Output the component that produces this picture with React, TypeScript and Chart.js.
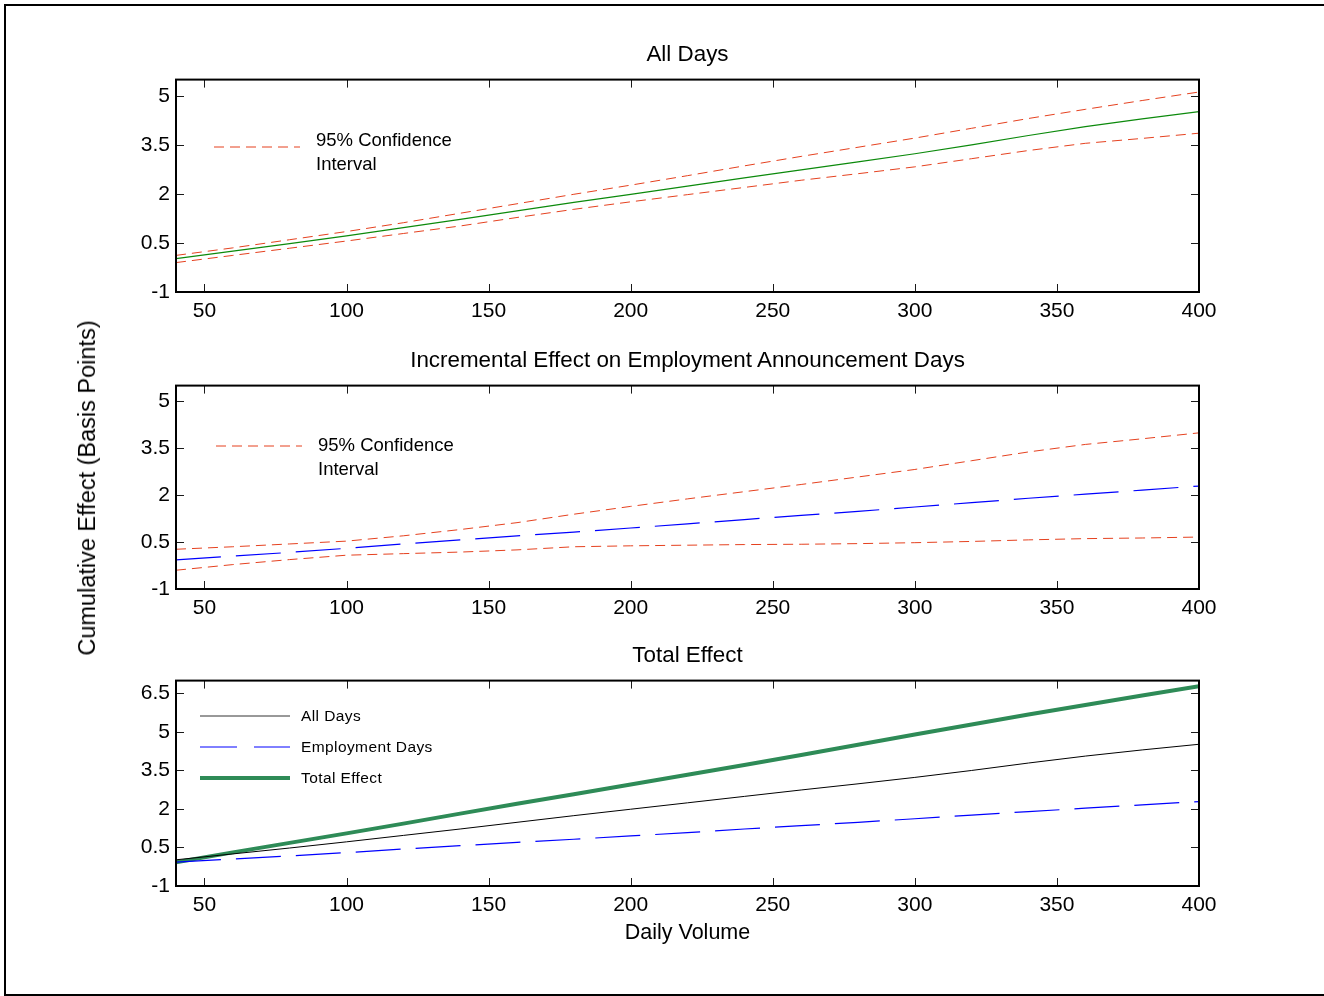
import React, { useEffect, useRef } from 'react';
import { Chart, registerables } from 'chart.js';

Chart.register(...registerables);

// ---------------- data ----------------
const VOLUME = [40, 60, 80, 100, 120, 140, 160, 180, 200, 220, 240, 260, 280, 300, 320, 340, 360, 380, 400];

// Panel 1: All Days
const ALL_DAYS = [0.02, 0.25, 0.48, 0.72, 0.97, 1.22, 1.48, 1.74, 1.99, 2.24, 2.49, 2.74, 2.98, 3.23, 3.5, 3.79, 4.06, 4.3, 4.52];
const ALL_DAYS_UPPER = [0.12, 0.35, 0.6, 0.85, 1.12, 1.41, 1.7, 1.99, 2.27, 2.56, 2.86, 3.15, 3.43, 3.71, 4.01, 4.31, 4.59, 4.86, 5.12];
const ALL_DAYS_LOWER = [-0.1, 0.12, 0.34, 0.56, 0.79, 1.02, 1.28, 1.53, 1.76, 1.98, 2.2, 2.42, 2.62, 2.83, 3.08, 3.33, 3.55, 3.7, 3.86];

// Panel 2: Incremental effect on employment announcement days
const EMP_DAYS = [-0.07, 0.05, 0.17, 0.3, 0.44, 0.57, 0.7, 0.82, 0.95, 1.08, 1.22, 1.35, 1.48, 1.62, 1.76, 1.9, 2.03, 2.16, 2.29];
const EMP_UPPER = [0.27, 0.35, 0.44, 0.53, 0.7, 0.9, 1.12, 1.39, 1.64, 1.88, 2.11, 2.34, 2.58, 2.82, 3.1, 3.38, 3.62, 3.8, 3.99];
const EMP_LOWER = [-0.4, -0.22, -0.06, 0.08, 0.13, 0.18, 0.25, 0.35, 0.38, 0.4, 0.42, 0.43, 0.45, 0.48, 0.52, 0.57, 0.61, 0.63, 0.66];

// Panel 3: Total effect
const TOTAL_EFFECT = [-0.08, 0.31, 0.68, 1.05, 1.43, 1.82, 2.2, 2.57, 2.95, 3.33, 3.71, 4.1, 4.5, 4.9, 5.29, 5.68, 6.05, 6.42, 6.78];

const X_TICKS = [50, 100, 150, 200, 250, 300, 350, 400];
const Y_TICKS_TOP = [-1, 0.5, 2, 3.5, 5];
const Y_TICKS_BOTTOM = [-1, 0.5, 2, 3.5, 5, 6.5];

const TITLES = ['All Days', 'Incremental Effect on Employment Announcement Days', 'Total Effect'];
const CI_LABEL = ['95% Confidence', 'Interval'];
const LEGEND3 = ['All Days', 'Employment Days', 'Total Effect'];
const Y_LABEL = 'Cumulative Effect (Basis Points)';
const X_LABEL = 'Daily Volume';

// ---------------- styles ----------------
const FONT = '"Liberation Sans", Arial, Helvetica, sans-serif';
const RED = '#e5411f';
const GREEN = '#0c8a0c';
const BLUE = '#0000ff';
const TOTAL_GREEN = '#2e8b57';
const TOP_PAD = 18;
const X_AXIS_H = 40;

const toPts = (ys: number[]) => VOLUME.map((x, i) => ({ x, y: ys[i] }));

const framePlugin = {
  id: 'matlabFrame',
  afterDatasetsDraw(chart: any, _args: any, opts: any) {
    const { ctx, chartArea: a, scales } = chart;
    const L = 8;
    ctx.save();
    ctx.strokeStyle = '#1a1a1a';
    ctx.lineWidth = 1;
    ctx.setLineDash([]);
    ctx.beginPath();
    for (const t of scales.x.ticks) {
      const p = Math.round(scales.x.getPixelForValue(t.value)) + 0.5;
      ctx.moveTo(p, a.bottom);
      ctx.lineTo(p, a.bottom - L);
      ctx.moveTo(p, a.top);
      ctx.lineTo(p, a.top + L);
    }
    for (const t of scales.y.ticks) {
      const p = Math.round(scales.y.getPixelForValue(t.value)) + 0.5;
      ctx.moveTo(a.left, p);
      ctx.lineTo(a.left + L, p);
      ctx.moveTo(a.right, p);
      ctx.lineTo(a.right - L, p);
    }
    ctx.stroke();
    ctx.lineWidth = 2;
    ctx.strokeStyle = '#000';
    ctx.strokeRect(a.left, a.top, a.right - a.left, a.bottom - a.top);

    const items = (opts && opts.items) || [];
    const off = (opts && opts.offsetTop) || 0;
    for (const it of items) {
      ctx.beginPath();
      ctx.strokeStyle = it.color;
      ctx.lineWidth = it.width;
      ctx.setLineDash(it.dash || []);
      ctx.moveTo(it.x1, it.y - off);
      ctx.lineTo(it.x2, it.y - off);
      ctx.stroke();
      ctx.setLineDash([]);
      ctx.fillStyle = '#000';
      ctx.font = `${it.fontSize}px ${FONT}`;
      ctx.textBaseline = 'middle';
      ctx.textAlign = 'left';
      try { (ctx as any).letterSpacing = it.spacing || '0px'; } catch (e) {}
      it.labels.forEach((lab: string, k: number) => {
        ctx.fillText(lab, it.tx, it.ty[k] - off);
      });
      try { (ctx as any).letterSpacing = '0px'; } catch (e) {}
    }
    ctx.restore();
  },
};

function makeConfig(datasets: any[], yMax: number, yTicks: number[], items: any[], offsetTop: number) {
  return {
    type: 'line',
    data: { datasets },
    plugins: [framePlugin],
    options: {
      animation: false,
      responsive: false,
      maintainAspectRatio: false,
      events: [],
      layout: { padding: { top: TOP_PAD, left: 126, right: 125, bottom: 0 } },
      elements: { point: { radius: 0 }, line: { tension: 0 } },
      plugins: {
        legend: { display: false },
        tooltip: { enabled: false },
        title: { display: false },
        matlabFrame: { items, offsetTop },
      },
      scales: {
        x: {
          type: 'linear',
          min: 40,
          max: 400,
          grid: { display: false, drawTicks: false },
          border: { display: false },
          ticks: {
            font: { family: FONT, size: 21 },
            color: '#000',
            padding: 7,
            maxRotation: 0,
            autoSkip: false,
            callback: (v: any) => String(v),
          },
          afterBuildTicks: (s: any) => {
            s.ticks = X_TICKS.map((v) => ({ value: v }));
          },
          afterFit: (s: any) => {
            s.height = X_AXIS_H;
          },
        },
        y: {
          type: 'linear',
          min: -1,
          max: yMax,
          grid: { display: false, drawTicks: false },
          border: { display: false },
          ticks: {
            font: { family: FONT, size: 21 },
            color: '#000',
            padding: 6,
            autoSkip: false,
            callback: (v: any) => String(v),
          },
          afterBuildTicks: (s: any) => {
            s.ticks = yTicks.map((v) => ({ value: v }));
          },
          afterFit: (s: any) => {
            s.width = 50;
          },
        },
      },
    },
  };
}

const line = (data: number[], color: string, width: number, dash: number[] = []) => ({
  data: toPts(data),
  borderColor: color,
  backgroundColor: color,
  borderWidth: width,
  borderDash: dash,
  pointRadius: 0,
  fill: false,
});

const RED_DASH = [10, 6];
const BLUE_DASH = [45, 15];

// plot-area top/bottom in page pixels
const PANELS = [
  { areaTop: 79, areaBottom: 292, titleY: 54 },
  { areaTop: 385, areaBottom: 589, titleY: 360 },
  { areaTop: 680, areaBottom: 886, titleY: 655 },
].map((p) => ({ ...p, top: p.areaTop - TOP_PAD, height: p.areaBottom - p.areaTop + TOP_PAD + X_AXIS_H }));

export default function App() {
  const r1 = useRef<HTMLCanvasElement>(null);
  const r2 = useRef<HTMLCanvasElement>(null);
  const r3 = useRef<HTMLCanvasElement>(null);

  useEffect(() => {
    const charts: Chart[] = [];
    const ci1 = [{ x1: 214, x2: 300, y: 147, color: RED, width: 1, dash: RED_DASH, labels: CI_LABEL, tx: 316, ty: [141, 165], fontSize: 18.5 }];
    const ci2 = [{ x1: 216, x2: 302, y: 446, color: RED, width: 1, dash: RED_DASH, labels: CI_LABEL, tx: 318, ty: [446, 470], fontSize: 18.5 }];
    const leg3 = [
      { x1: 200, x2: 290, y: 716, color: '#333', width: 1, dash: [], labels: [LEGEND3[0]], tx: 301, ty: [717], fontSize: 15.5, spacing: '0.4px' },
      { x1: 200, x2: 290, y: 747, color: BLUE, width: 1, dash: [37, 17], labels: [LEGEND3[1]], tx: 301, ty: [748], fontSize: 15.5, spacing: '0.4px' },
      { x1: 200, x2: 290, y: 778, color: TOTAL_GREEN, width: 4, dash: [], labels: [LEGEND3[2]], tx: 301, ty: [779], fontSize: 15.5, spacing: '0.4px' },
    ];
    if (r1.current) {
      charts.push(new Chart(r1.current, makeConfig([
        line(ALL_DAYS_UPPER, RED, 1, RED_DASH),
        line(ALL_DAYS_LOWER, RED, 1, RED_DASH),
        line(ALL_DAYS, GREEN, 1.2),
      ], 5.5, Y_TICKS_TOP, ci1, PANELS[0].top) as any));
    }
    if (r2.current) {
      charts.push(new Chart(r2.current, makeConfig([
        line(EMP_UPPER, RED, 1, RED_DASH),
        line(EMP_LOWER, RED, 1, RED_DASH),
        line(EMP_DAYS, BLUE, 1.2, BLUE_DASH),
      ], 5.5, Y_TICKS_TOP, ci2, PANELS[1].top) as any));
    }
    if (r3.current) {
      charts.push(new Chart(r3.current, makeConfig([
        line(ALL_DAYS, '#000', 1),
        line(EMP_DAYS, BLUE, 1.2, BLUE_DASH),
        line(TOTAL_EFFECT, TOTAL_GREEN, 4),
      ], 7, Y_TICKS_BOTTOM, leg3, PANELS[2].top) as any));
    }
    return () => charts.forEach((c) => c.destroy());
  }, []);

  const refs = [r1, r2, r3];
  const textBase: React.CSSProperties = {
    position: 'absolute',
    fontFamily: FONT,
    color: '#000',
    whiteSpace: 'nowrap',
    lineHeight: '30px',
  };

  return (
    <div style={{ position: 'fixed', left: 0, top: 0, width: 1324, height: 996, overflow: 'hidden', background: '#fff' }}>
      <div
        style={{
          position: 'absolute',
          left: 4,
          top: 4,
          width: 1400,
          height: 992,
          boxSizing: 'border-box',
          borderTop: '2px solid #000',
          borderLeft: '2px solid #000',
          borderBottom: '2px solid #000',
        }}
      />
      {PANELS.map((p, i) => (
        <React.Fragment key={i}>
          <canvas
            ref={refs[i]}
            width={1324}
            height={p.height}
            style={{ position: 'absolute', left: 0, top: p.top, width: 1324, height: p.height }}
          />
          <div style={{ ...textBase, left: 176, width: 1023, top: p.titleY - 15, textAlign: 'center', fontSize: 22.4 }}>
            {TITLES[i]}
          </div>
        </React.Fragment>
      ))}
      <div style={{ ...textBase, left: 176, width: 1023, top: 932 - 15, textAlign: 'center', fontSize: 21.5 }}>
        {X_LABEL}
      </div>
      <div
        style={{
          ...textBase,
          left: 87,
          top: 488,
          fontSize: 23.5,
          transform: 'translate(-50%, -50%) rotate(-90deg)',
        }}
      >
        {Y_LABEL}
      </div>
    </div>
  );
}
